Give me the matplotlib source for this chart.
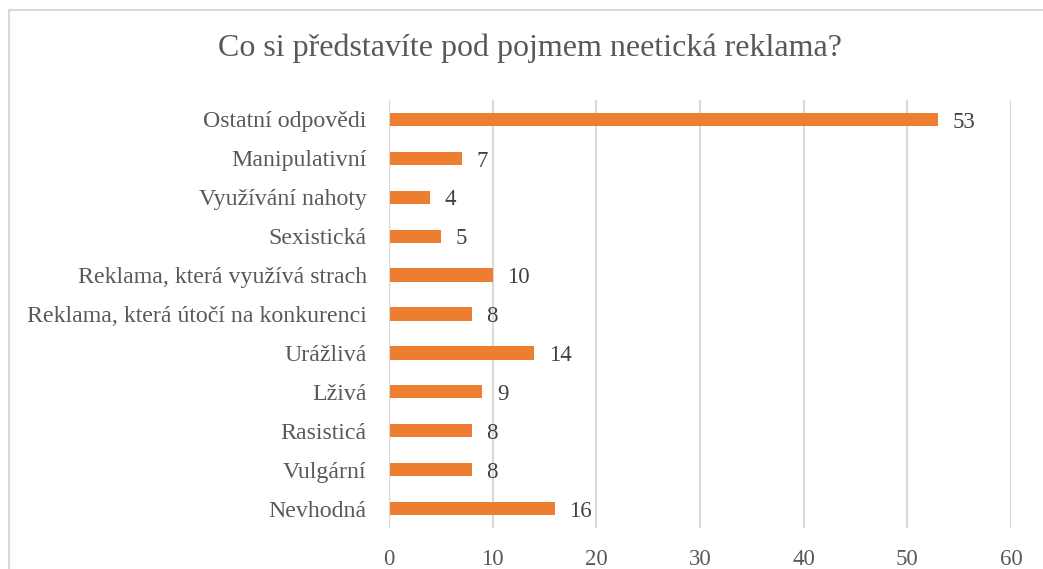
import matplotlib
matplotlib.use("Agg")
import matplotlib.pyplot as plt
from matplotlib.patches import Rectangle

categories = ["Nevhodná", "Vulgární", "Rasisticá", "Lživá", "Urážlivá",
              "Reklama, která útočí na konkurenci", "Reklama, která využívá strach",
              "Sexistická", "Využívání nahoty", "Manipulativní", "Ostatní odpovědi"]
values = [16, 8, 8, 9, 14, 8, 10, 5, 4, 7, 53]
xticks = [0, 10, 20, 30, 40, 50, 60]
title = "Co si představíte pod pojmem neetická reklama?"

TEXT = "#595959"
BAR = "#ED7D31"
plt.rcParams['font.family'] = ['Liberation Serif', 'DejaVu Serif']

fig = plt.figure(figsize=(10.43, 5.69), dpi=100)
W, H = 1043, 569
ax = fig.add_axes([389 / W, 1 - 528 / H, (1011 - 389) / W, (528 - 100) / H])

y = list(range(len(categories)))
ax.barh(y, values, height=0.34, color=BAR, zorder=3)
for yi, v in zip(y, values):
    ax.text(v + 1.4, yi - 0.07, str(v), va='center', ha='left', fontsize=16.5, color="#404040")

ax.set_xlim(0, 60)
ax.set_ylim(-0.5, len(categories) - 0.5)
ax.set_xticks(xticks)
ax.set_xticklabels([str(t) for t in xticks], fontsize=16.5, color=TEXT)
ax.set_yticks(y)
ax.set_yticklabels(categories, fontsize=17.2, color=TEXT)
ax.tick_params(axis='both', length=0)
ax.tick_params(axis='x', pad=15)
ax.tick_params(axis='y', pad=16)
ax.grid(axis='x', color='#D9D9D9', linewidth=1.5, zorder=0)
for s in ax.spines.values():
    s.set_visible(False)
ax.axvline(0, color='#D9D9D9', linewidth=1.5, zorder=4)

fig.text(0.5 * (W + 16) / W, 1 - 48 / H, title, ha='center', va='center', fontsize=23, color=TEXT)

fig.patches.append(Rectangle((9 / W, -0.1), 1.2, (1 - 10 / H) + 0.1, transform=fig.transFigure,
                             fill=False, edgecolor='#D9D9D9', linewidth=1.5))

fig.savefig("out.png", dpi=100)
